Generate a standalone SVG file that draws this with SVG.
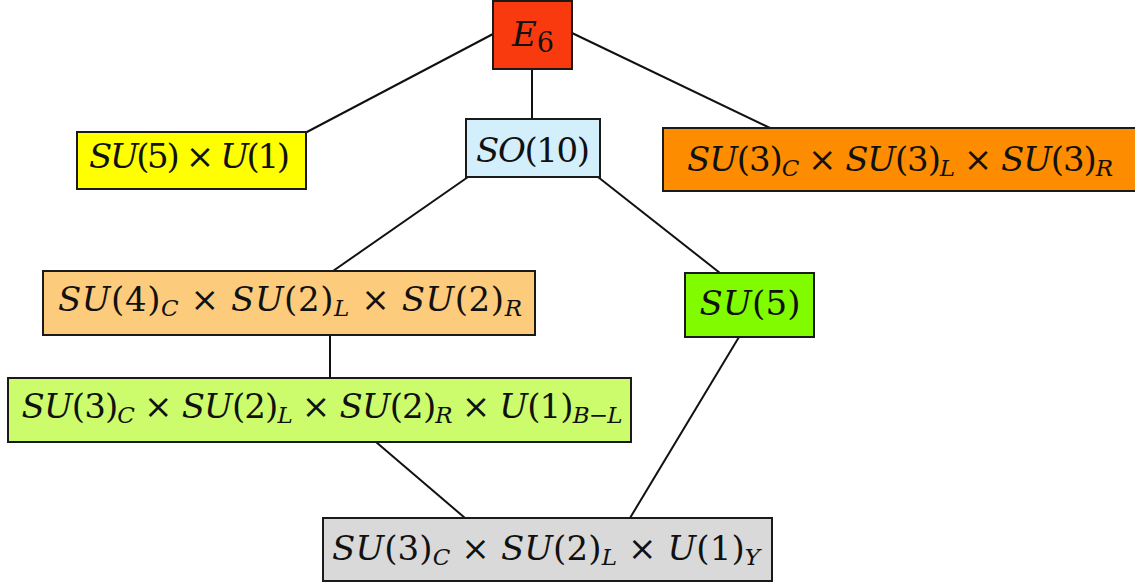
<svg xmlns="http://www.w3.org/2000/svg" width="1135" height="586" viewBox="0 0 1135 586">
<style>
.box{stroke:#1a1a1a;stroke-width:2}
.t{font-family:"DejaVu Serif",serif;font-size:34px;fill:#111}
.i{font-style:italic}
.s{font-size:23px;font-style:italic}
.c line{stroke:#111;stroke-width:2}
</style>
<rect width="1135" height="586" fill="#fff"/>
<g class="c" id="connectors">
<line x1="493" y1="34" x2="305" y2="133"/>
<line x1="572" y1="33" x2="770" y2="128"/>
<line x1="532" y1="69" x2="532" y2="119"/>
<line x1="468" y1="177" x2="333" y2="271"/>
<line x1="598" y1="177" x2="720" y2="273"/>
<line x1="330" y1="335" x2="330" y2="378"/>
<line x1="376" y1="442" x2="465" y2="518"/>
<line x1="739" y1="337" x2="630" y2="518"/>
</g>
<g id="e6">
<rect class="box" x="493" y="1" width="79" height="68" fill="#f93a0e"/>
<text class="t" x="533" y="46" text-anchor="middle" font-size="39"><tspan class="i">E</tspan><tspan font-size="27" dy="6">6</tspan></text>
</g>
<g id="su5u1">
<rect class="box" x="77" y="132" width="229" height="57" fill="#ffff00"/>
<text class="t" x="189.5" y="168" text-anchor="middle" textLength="201"><tspan class="i">SU</tspan>(5) × <tspan class="i">U</tspan>(1)</text>
</g>
<g id="so10">
<rect class="box" x="466" y="119" width="134" height="58" fill="#d3effb"/>
<text class="t" x="533" y="162" text-anchor="middle" textLength="114"><tspan class="i">SO</tspan>(10)</text>
</g>
<g id="su333">
<rect class="box" x="663" y="128" width="480" height="63" fill="#fd8c00"/>
<text class="t" x="900" y="171" text-anchor="middle" textLength="426"><tspan class="i">SU</tspan>(3)<tspan class="s" dy="5">C</tspan><tspan dy="-5"> × </tspan><tspan class="i">SU</tspan>(3)<tspan class="s" dy="5">L</tspan><tspan dy="-5"> × </tspan><tspan class="i">SU</tspan>(3)<tspan class="s" dy="5">R</tspan></text>
</g>
<g id="su422">
<rect class="box" x="43" y="271" width="492" height="64" fill="#fccb7c"/>
<text class="t" x="290" y="311" text-anchor="middle" textLength="464"><tspan class="i">SU</tspan>(4)<tspan class="s" dy="5">C</tspan><tspan dy="-5"> × </tspan><tspan class="i">SU</tspan>(2)<tspan class="s" dy="5">L</tspan><tspan dy="-5"> × </tspan><tspan class="i">SU</tspan>(2)<tspan class="s" dy="5">R</tspan></text>
</g>
<g id="su5">
<rect class="box" x="685" y="273" width="129" height="64" fill="#80fb00"/>
<text class="t" x="750" y="315" text-anchor="middle" textLength="101"><tspan class="i">SU</tspan>(5)</text>
</g>
<g id="su3221">
<rect class="box" x="8" y="378" width="623" height="64" fill="#ccfc6c"/>
<text class="t" x="322" y="418" text-anchor="middle" textLength="601"><tspan class="i">SU</tspan>(3)<tspan class="s" dy="5">C</tspan><tspan dy="-5"> × </tspan><tspan class="i">SU</tspan>(2)<tspan class="s" dy="5">L</tspan><tspan dy="-5"> × </tspan><tspan class="i">SU</tspan>(2)<tspan class="s" dy="5">R</tspan><tspan dy="-5"> × </tspan><tspan class="i">U</tspan>(1)<tspan class="s" dy="5">B−L</tspan></text>
</g>
<g id="su321">
<rect class="box" x="323" y="518" width="449" height="63" fill="#d9d9d9"/>
<text class="t" x="546" y="560" text-anchor="middle" textLength="428"><tspan class="i">SU</tspan>(3)<tspan class="s" dy="5">C</tspan><tspan dy="-5"> × </tspan><tspan class="i">SU</tspan>(2)<tspan class="s" dy="5">L</tspan><tspan dy="-5"> × </tspan><tspan class="i">U</tspan>(1)<tspan class="s" dy="5">Y</tspan></text>
</g>
</svg>
